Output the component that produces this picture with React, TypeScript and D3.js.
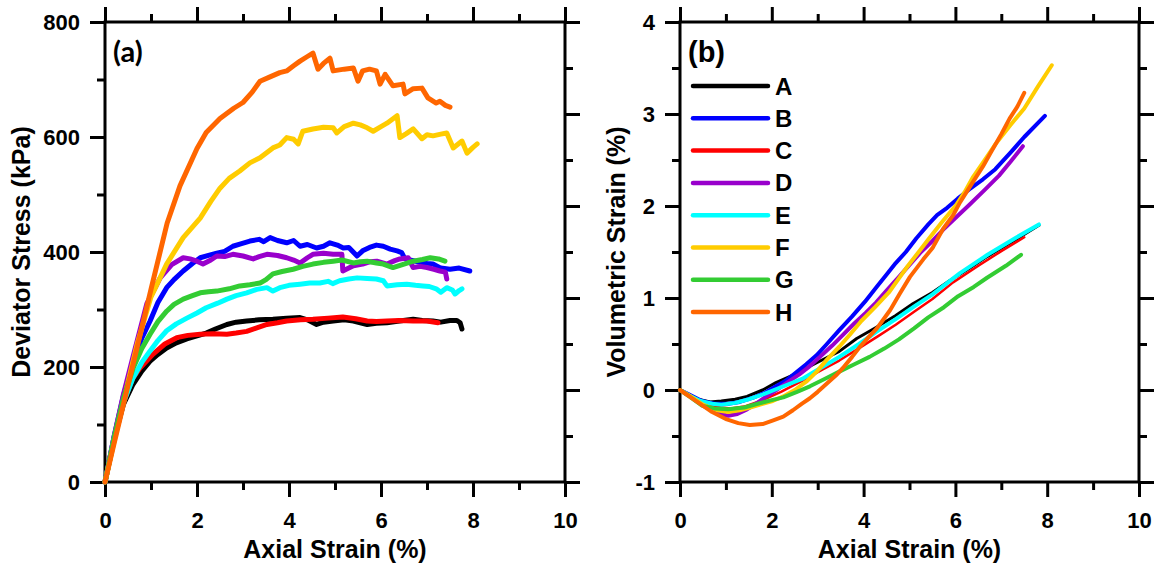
import React, { useRef, useEffect } from "react";
import * as d3 from "d3";

// series info
const seriesNames = ["A", "B", "C", "D", "E", "F", "G", "H"];
const seriesColors = ["#000000", "#0000ff", "#ff0000", "#9900cc", "#00ffff", "#ffcc00", "#33cc33", "#ff6600"];

// tick values
const xTicks = [0, 2, 4, 6, 8, 10];
const xMinorTicks = [1, 3, 5, 7, 9];
const stressTicks = [0, 200, 400, 600, 800];
const stressMinorTicks = [100, 300, 500, 700];
const volTicks = [-1, 0, 1, 2, 3, 4];
const volMinorTicks = [-0.5, 0.5, 1.5, 2.5, 3.5];

// (a) deviator stress (kPa) vs axial strain (%)
const stressA = [[0,0],[0.2,75],[0.4,135],[0.61,170],[0.8,193],[0.98,210],[1.15,222],[1.34,233],[1.55,242],[1.78,249],[2.0,254],[2.2,259],[2.4,266],[2.65,274],[2.85,278],[3.08,280],[3.35,282],[3.65,283],[3.95,285],[4.24,286],[4.4,282],[4.6,274],[4.75,278],[4.96,280],[5.2,282],[5.4,280],[5.55,277],[5.7,274],[5.9,276],[6.13,277],[6.4,280],[6.7,283],[6.9,281],[7.13,280],[7.3,278],[7.5,281],[7.65,281],[7.72,277],[7.76,266]];
const stressB = [[0,0],[0.2,80],[0.4,150],[0.6,205],[0.8,250],[0.98,280],[1.15,312],[1.34,338],[1.5,352],[1.7,367],[1.9,380],[2.07,390],[2.25,394],[2.43,398],[2.6,401],[2.78,410],[2.95,414],[3.15,419],[3.35,422],[3.45,418],[3.59,425],[3.75,420],[3.95,416],[4.1,420],[4.24,410],[4.4,413],[4.6,407],[4.75,410],[4.89,416],[5.05,412],[5.18,407],[5.3,408],[5.48,393],[5.6,402],[5.75,408],[5.9,412],[6.05,410],[6.2,405],[6.35,402],[6.45,399],[6.52,388],[6.63,386],[6.8,383],[7.0,380],[7.13,379],[7.3,372],[7.5,370],[7.7,372],[7.93,367]];
const stressC = [[0,0],[0.2,75],[0.4,138],[0.6,180],[0.76,198],[1.04,222],[1.3,240],[1.56,251],[1.8,255],[2.07,257],[2.35,258],[2.65,257],[2.85,259],[3.08,262],[3.3,268],[3.52,274],[3.75,277],[3.95,280],[4.25,282],[4.52,283],[4.85,285],[5.17,287],[5.45,284],[5.7,280],[5.9,279],[6.13,280],[6.4,281],[6.7,280],[7.0,280],[7.24,277]];
const stressD = [[0,0],[0.2,80],[0.4,152],[0.6,215],[0.91,310],[1.2,355],[1.45,378],[1.7,390],[1.85,388],[2.0,384],[2.13,379],[2.3,386],[2.43,393],[2.6,392],[2.78,396],[3.0,393],[3.22,388],[3.35,392],[3.52,396],[3.75,394],[3.95,390],[4.1,386],[4.24,381],[4.4,390],[4.52,396],[4.75,398],[4.96,396],[5.15,396],[5.17,367],[5.3,372],[5.4,376],[5.6,379],[5.75,383],[5.91,384],[6.13,379],[6.3,385],[6.41,388],[6.59,390],[6.7,373],[6.85,375],[7.0,373],[7.15,370],[7.28,367],[7.4,365],[7.43,353]];
const stressE = [[0,0],[0.2,75],[0.4,138],[0.61,181],[0.8,208],[0.98,228],[1.15,246],[1.34,263],[1.55,275],[1.78,285],[2.0,294],[2.2,303],[2.45,311],[2.65,318],[2.85,324],[3.08,329],[3.3,335],[3.52,338],[3.65,332],[3.8,338],[4.0,342],[4.24,344],[4.45,346],[4.67,346],[4.85,349],[4.95,345],[5.1,350],[5.3,353],[5.48,355],[5.7,354],[5.9,353],[6.05,350],[6.13,341],[6.35,343],[6.56,344],[6.75,342],[6.91,341],[7.05,340],[7.2,336],[7.3,330],[7.43,338],[7.55,334],[7.61,327],[7.7,333],[7.76,336]];
const stressF = [[0,0],[0.2,72],[0.4,140],[0.7,240],[1.0,322],[1.34,379],[1.7,425],[2.07,459],[2.3,488],[2.5,511],[2.7,528],[2.93,541],[3.15,555],[3.37,564],[3.65,581],[3.8,586],[3.95,599],[4.1,596],[4.2,588],[4.3,610],[4.52,614],[4.75,617],[4.96,616],[5.04,607],[5.2,618],[5.4,624],[5.55,621],[5.7,616],[5.83,610],[6.0,618],[6.13,624],[6.35,637],[6.41,599],[6.55,606],[6.7,614],[6.89,597],[7.0,604],[7.13,602],[7.3,605],[7.43,607],[7.57,581],[7.76,593],[7.87,572],[8.0,582],[8.09,588]];
const stressG = [[0,0],[0.2,78],[0.4,145],[0.61,198],[0.8,232],[0.98,257],[1.15,279],[1.34,297],[1.5,309],[1.7,318],[1.9,324],[2.07,329],[2.25,331],[2.43,332],[2.7,336],[2.93,341],[3.15,343],[3.37,346],[3.5,352],[3.65,362],[3.85,366],[4.09,370],[4.3,375],[4.52,379],[4.75,382],[4.96,384],[5.15,386],[5.4,381],[5.55,383],[5.7,384],[5.9,381],[6.05,379],[6.26,373],[6.5,379],[6.7,384],[6.9,387],[7.07,390],[7.25,388],[7.39,384]];
const stressH = [[0,0],[0.2,68],[0.5,168],[1.0,335],[1.35,450],[1.63,515],[2.0,580],[2.2,608],[2.5,632],[2.8,650],[3.0,660],[3.2,678],[3.37,697],[3.6,705],[3.8,712],[3.95,715],[4.1,724],[4.24,732],[4.4,740],[4.52,746],[4.63,718],[4.75,728],[4.89,737],[4.96,715],[5.2,718],[5.4,720],[5.5,697],[5.6,715],[5.75,718],[5.9,715],[5.98,692],[6.09,709],[6.26,689],[6.48,692],[6.52,675],[6.7,684],[6.89,685],[7.02,668],[7.2,659],[7.28,662],[7.4,655],[7.5,652]];

// (b) volumetric strain (%) vs axial strain (%)
const volA = [[0,0],[0.2,-0.06],[0.4,-0.1],[0.65,-0.13],[0.9,-0.12],[1.2,-0.1],[1.46,-0.07],[1.8,0.0],[2.09,0.08],[2.45,0.16],[2.83,0.26],[3.15,0.34],[3.47,0.42],[3.85,0.56],[4.27,0.68],[4.7,0.81],[5.08,0.94],[5.5,1.06],[5.88,1.19],[6.3,1.32],[6.69,1.45],[7.2,1.6],[7.82,1.79]];
const volB = [[0,0],[0.2,-0.05],[0.48,-0.12],[0.75,-0.15],[1.05,-0.15],[1.3,-0.13],[1.61,-0.08],[1.85,-0.03],[2.09,0.04],[2.3,0.1],[2.5,0.18],[2.75,0.28],[2.98,0.38],[3.2,0.5],[3.47,0.65],[3.75,0.8],[4.03,0.96],[4.3,1.13],[4.51,1.26],[4.7,1.38],[4.92,1.5],[5.15,1.65],[5.41,1.8],[5.6,1.9],[5.82,1.98],[6.05,2.08],[6.3,2.18],[6.6,2.29],[6.87,2.4],[7.2,2.58],[7.5,2.75],[7.95,2.98]];
const volC = [[0,0],[0.2,-0.06],[0.45,-0.13],[0.75,-0.18],[1.1,-0.2],[1.4,-0.18],[1.8,-0.11],[2.2,-0.02],[2.66,0.1],[3.1,0.22],[3.47,0.32],[3.92,0.46],[4.3,0.58],[4.7,0.71],[5.1,0.85],[5.5,0.99],[5.95,1.17],[6.5,1.35],[7.0,1.51],[7.5,1.66]];
const volD = [[0,0],[0.2,-0.06],[0.5,-0.17],[0.8,-0.25],[1.05,-0.28],[1.25,-0.26],[1.46,-0.21],[1.65,-0.15],[1.85,-0.08],[2.1,0.0],[2.33,0.08],[2.6,0.17],[2.83,0.26],[3.05,0.36],[3.31,0.48],[3.55,0.6],[3.79,0.72],[4.05,0.84],[4.27,0.95],[4.5,1.08],[4.77,1.23],[5.0,1.36],[5.25,1.5],[5.5,1.62],[5.73,1.74],[6.0,1.87],[6.3,2.01],[6.65,2.18],[6.95,2.33],[7.2,2.48],[7.47,2.65]];
const volE = [[0,0],[0.2,-0.06],[0.45,-0.12],[0.7,-0.15],[0.9,-0.16],[1.2,-0.14],[1.5,-0.1],[1.85,-0.04],[2.2,0.03],[2.66,0.12],[3.1,0.25],[3.47,0.36],[3.9,0.5],[4.27,0.63],[4.7,0.77],[5.08,0.9],[5.5,1.04],[6.1,1.27],[6.7,1.47],[7.3,1.65],[7.82,1.8]];
const volF = [[0,0],[0.2,-0.06],[0.5,-0.16],[0.8,-0.22],[1.05,-0.24],[1.3,-0.22],[1.53,-0.19],[1.8,-0.15],[2.02,-0.12],[2.25,-0.07],[2.5,0.0],[2.75,0.09],[2.98,0.2],[3.2,0.33],[3.47,0.47],[3.7,0.6],[3.95,0.75],[4.25,0.9],[4.55,1.06],[4.75,1.2],[4.95,1.34],[5.2,1.5],[5.43,1.65],[5.7,1.82],[6.0,2.0],[6.2,2.15],[6.39,2.32],[6.6,2.47],[6.87,2.67],[7.2,2.88],[7.5,3.06],[7.8,3.3],[8.1,3.53]];
const volG = [[0,0],[0.2,-0.07],[0.48,-0.17],[0.75,-0.2],[1.05,-0.21],[1.4,-0.19],[1.69,-0.15],[2.0,-0.11],[2.25,-0.08],[2.55,-0.02],[2.83,0.04],[3.15,0.12],[3.47,0.2],[3.8,0.28],[4.13,0.36],[4.45,0.45],[4.77,0.55],[5.1,0.67],[5.41,0.79],[5.75,0.9],[6.06,1.02],[6.4,1.12],[6.69,1.22],[7.1,1.35],[7.43,1.47]];
const volH = [[0,0],[0.2,-0.07],[0.44,-0.15],[0.7,-0.24],[1.02,-0.32],[1.27,-0.36],[1.52,-0.38],[1.8,-0.37],[2.03,-0.33],[2.25,-0.29],[2.46,-0.22],[2.65,-0.15],[2.83,-0.09],[3.0,-0.02],[3.2,0.07],[3.4,0.16],[3.55,0.24],[3.75,0.36],[3.92,0.47],[4.1,0.57],[4.29,0.67],[4.45,0.78],[4.58,0.87],[4.79,1.05],[5.01,1.23],[5.3,1.42],[5.51,1.55],[5.73,1.75],[5.95,1.9],[6.1,2.04],[6.38,2.26],[6.6,2.43],[6.78,2.59],[7.0,2.78],[7.18,2.95],[7.35,3.08],[7.5,3.23]];

const stressData = [stressA, stressB, stressC, stressD, stressE, stressF, stressG, stressH];
const volData = [volA, volB, volC, volD, volE, volF, volG, volH];

const App = () => {
  const svgRef = useRef<SVGSVGElement>(null);

  useEffect(() => {
    const svg = d3.select(svgRef.current);
    svg.selectAll("*").remove();

    const top = 22;
    const bottom = 482;
    const arial = "'Liberation Sans', Arial, sans-serif";

    const styleAxis = (g: any) => {
      g.select(".domain").remove();
      g.selectAll("line").attr("stroke", "#000").attr("stroke-width", 3);
      g.selectAll("text")
        .attr("font-family", arial)
        .attr("font-size", 22)
        .attr("font-weight", "bold")
        .attr("fill", "#000");
    };

    const panels = [
      {
        left: 105, right: 565,
        yDomain: [0, 800], yTicks: stressTicks, yMinor: stressMinorTicks,
        data: stressData, widths: [5, 5, 5, 5, 5, 5, 5, 5],
        tag: "(a)", tagFont: "Lato, 'Open Sans', sans-serif",
        yTitle: "Deviator Stress (kPa)", yTitleX: 30, legend: false,
      },
      {
        left: 680, right: 1139,
        yDomain: [-1, 4], yTicks: volTicks, yMinor: volMinorTicks,
        data: volData, widths: [3, 4, 2.5, 4, 4, 4, 4, 4],
        tag: "(b)", tagFont: arial,
        yTitle: "Volumetric Strain (%)", yTitleX: 625, legend: true,
      },
    ];

    // right side ticks of both frames follow the volumetric scale
    const yRight = d3.scaleLinear().domain([-1, 4]).range([bottom, top]);

    panels.forEach((p) => {
      const x = d3.scaleLinear().domain([0, 10]).range([p.left, p.right]);
      const y = d3.scaleLinear().domain(p.yDomain).range([bottom, top]);
      const g = svg.append("g");

      // bottom axis
      g.append("g").attr("transform", `translate(0,${bottom})`)
        .call(d3.axisBottom(x).tickValues(xTicks).tickSize(15).tickPadding(15).tickFormat((d: any) => String(d)))
        .call(styleAxis);
      g.append("g").attr("transform", `translate(0,${bottom})`)
        .call(d3.axisBottom(x).tickValues(xMinorTicks).tickSize(8).tickFormat(() => ""))
        .call(styleAxis);
      // top axis
      g.append("g").attr("transform", `translate(0,${top})`)
        .call(d3.axisTop(x).tickValues(xTicks).tickSize(15).tickFormat(() => ""))
        .call(styleAxis);
      g.append("g").attr("transform", `translate(0,${top})`)
        .call(d3.axisTop(x).tickValues(xMinorTicks).tickSize(8).tickFormat(() => ""))
        .call(styleAxis);
      // left axis
      g.append("g").attr("transform", `translate(${p.left},0)`)
        .call(d3.axisLeft(y).tickValues(p.yTicks).tickSize(15).tickPadding(10).tickFormat((d: any) => String(d)))
        .call(styleAxis);
      g.append("g").attr("transform", `translate(${p.left},0)`)
        .call(d3.axisLeft(y).tickValues(p.yMinor).tickSize(8).tickFormat(() => ""))
        .call(styleAxis);
      // right axis
      g.append("g").attr("transform", `translate(${p.right},0)`)
        .call(d3.axisRight(yRight).tickValues(volTicks).tickSize(15).tickFormat(() => ""))
        .call(styleAxis);
      g.append("g").attr("transform", `translate(${p.right},0)`)
        .call(d3.axisRight(yRight).tickValues(volMinorTicks).tickSize(8).tickFormat(() => ""))
        .call(styleAxis);

      // frame
      g.append("rect")
        .attr("x", p.left).attr("y", top)
        .attr("width", p.right - p.left).attr("height", bottom - top)
        .attr("fill", "none").attr("stroke", "#000").attr("stroke-width", 3);

      // curves
      const line = d3.line<number[]>().x((d) => x(d[0])).y((d) => y(d[1]));
      p.data.forEach((series, i) => {
        g.append("path")
          .attr("d", line(series as any))
          .attr("fill", "none")
          .attr("stroke", seriesColors[i])
          .attr("stroke-width", p.widths[i])
          .attr("stroke-linejoin", "round")
          .attr("stroke-linecap", "round");
      });

      // panel tag
      g.append("text")
        .attr("x", p.left + 8).attr("y", 62)
        .attr("font-family", p.tagFont).attr("font-size", 29).attr("font-weight", "bold")
        .text(p.tag);

      // axis titles
      g.append("text")
        .attr("x", (p.left + p.right) / 2).attr("y", 558)
        .attr("text-anchor", "middle")
        .attr("font-family", arial).attr("font-size", 25).attr("font-weight", "bold")
        .text("Axial Strain (%)");
      g.append("text")
        .attr("transform", `translate(${p.yTitleX},${(top + bottom) / 2}) rotate(-90)`)
        .attr("text-anchor", "middle")
        .attr("font-family", arial).attr("font-size", 25).attr("font-weight", "bold")
        .text(p.yTitle);

      if (p.legend) {
        const lg = g.append("g");
        seriesNames.forEach((name, i) => {
          const ly = 86 + i * 32.3;
          lg.append("line")
            .attr("x1", p.left + 13).attr("x2", p.left + 88)
            .attr("y1", ly).attr("y2", ly)
            .attr("stroke", seriesColors[i]).attr("stroke-width", 4.5)
            .attr("stroke-linecap", "round");
          lg.append("text")
            .attr("x", p.left + 95).attr("y", ly + 8.5)
            .attr("font-family", arial).attr("font-size", 24).attr("font-weight", "bold")
            .text(name);
        });
      }
    });
  }, []);

  return (
    <svg
      ref={svgRef}
      width={1158}
      height={566}
      style={{ position: "absolute", left: 0, top: 0, background: "#fff" }}
    ></svg>
  );
};

export default App;
